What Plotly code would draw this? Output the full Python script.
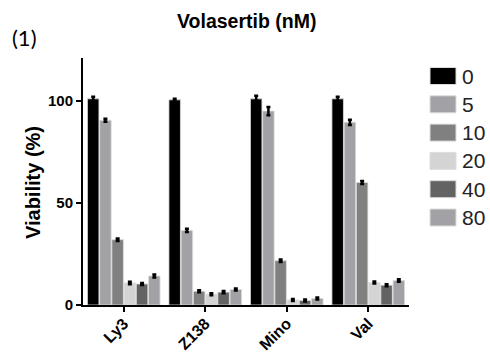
import plotly.graph_objects as go

# ---- data ----
cell_lines = ["Ly3", "Z138", "Mino", "Val"]
doses = ["0", "5", "10", "20", "40", "80"]
viability = {
    "0":  [101.0, 100.5, 101.0, 101.0],
    "5":  [90.5, 36.5, 95.0, 89.5],
    "10": [32.0, 6.7, 21.7, 60.0],
    "20": [10.8, 5.3, 2.5, 11.0],
    "40": [10.3, 6.3, 2.2, 9.7],
    "80": [14.2, 7.6, 3.2, 12.0],
}
errors = {
    "0":  [1.0, 0.5, 1.5, 1.0],
    "5":  [0.7, 0.8, 2.0, 1.3],
    "10": [0.6, 0.5, 0.6, 0.7],
    "20": [0.6, 0.5, 0.5, 0.5],
    "40": [0.5, 0.5, 0.5, 0.5],
    "80": [0.7, 0.5, 0.5, 0.6],
}
colors = ["#000000", "#a2a2a6", "#808080", "#d4d4d4", "#636363", "#a2a2a6"]

# ---- layout geometry (pixels; body margin removed below) ----
W, H = 490, 354
L = 83
R = W - 409
T = 58
B = H - 305
plot_w = W - L - R
plot_h = H - T - B

fig = go.Figure()
for d, c in zip(doses, colors):
    fig.add_trace(go.Bar(
        x=cell_lines, y=viability[d], name=d,
        marker=dict(color=c, line=dict(color="#dcdcdc", width=0.8)),
        error_y=dict(type="data", array=errors[d], visible=True,
                     color="#000000", thickness=2.5, width=2),
        showlegend=False,
    ))

font_b = "Liberation Sans"

fig.update_layout(
    width=W, height=H,
    margin=dict(l=L, r=R, t=T, b=B, pad=0, autoexpand=False),
    plot_bgcolor="white", paper_bgcolor="white",
    barmode="group", bargap=0.1, bargroupgap=0.06,
    font=dict(family=font_b, color="#000000"),
)
fig.update_xaxes(
    range=[-0.5, 3.5], showgrid=False, zeroline=False, automargin=False,
    showline=True, linecolor="black", linewidth=2,
    ticks="outside", ticklen=5, tickwidth=2, tickcolor="black",
    tickangle=-45, ticklabelstandoff=-4,
    tickfont=dict(family=font_b, size=16, color="black", weight="bold"),
)
fig.update_yaxes(
    range=[0, 121], showgrid=False, zeroline=False, automargin=False,
    showline=True, linecolor="black", linewidth=2,
    ticks="outside", ticklen=5, tickwidth=2, tickcolor="black",
    tickvals=[0, 50, 100], ticktext=["0", "50", "100"],
    tickfont=dict(family=font_b, size=15, color="black", weight="bold"),
)

def px_x(px):
    return (px - L) / plot_w

def px_y(py):
    return (H - B - py) / plot_h

# Title, axis title and panel label
fig.add_annotation(text="<b>Volasertib (nM)</b>", xref="paper", yref="paper",
                   x=px_x(246), y=px_y(21), showarrow=False,
                   font=dict(family=font_b, size=19.5, color="black"),
                   xanchor="center", yanchor="middle")
fig.add_annotation(text="<b>Viability (%)</b>", xref="paper", yref="paper",
                   x=px_x(33), y=px_y(183), showarrow=False, textangle=-90,
                   font=dict(family=font_b, size=20, color="black"),
                   xanchor="center", yanchor="middle")
fig.add_annotation(text="(1)", xref="paper", yref="paper",
                   x=px_x(10), y=px_y(38), showarrow=False,
                   font=dict(family="Lato", size=22, color="black"),
                   xanchor="left", yanchor="middle")

# Custom legend
for i, (d, c) in enumerate(zip(doses, colors)):
    yc = 76 + 28.3 * i
    fig.add_shape(type="rect", xref="paper", yref="paper",
                  x0=px_x(430), x1=px_x(456), y0=px_y(yc + 8.5), y1=px_y(yc - 8.5),
                  fillcolor=c, line=dict(color="#dcdcdc", width=1))
    fig.add_annotation(text=d, xref="paper", yref="paper",
                       x=px_x(460), y=px_y(yc), showarrow=False,
                       font=dict(family=font_b, size=21, color="#222222"),
                       xanchor="left", yanchor="middle")

fig.write_html(
    "out.html",
    config={"displayModeBar": False},
    post_script="document.body.style.margin='0';document.body.style.overflow='hidden';",
)
